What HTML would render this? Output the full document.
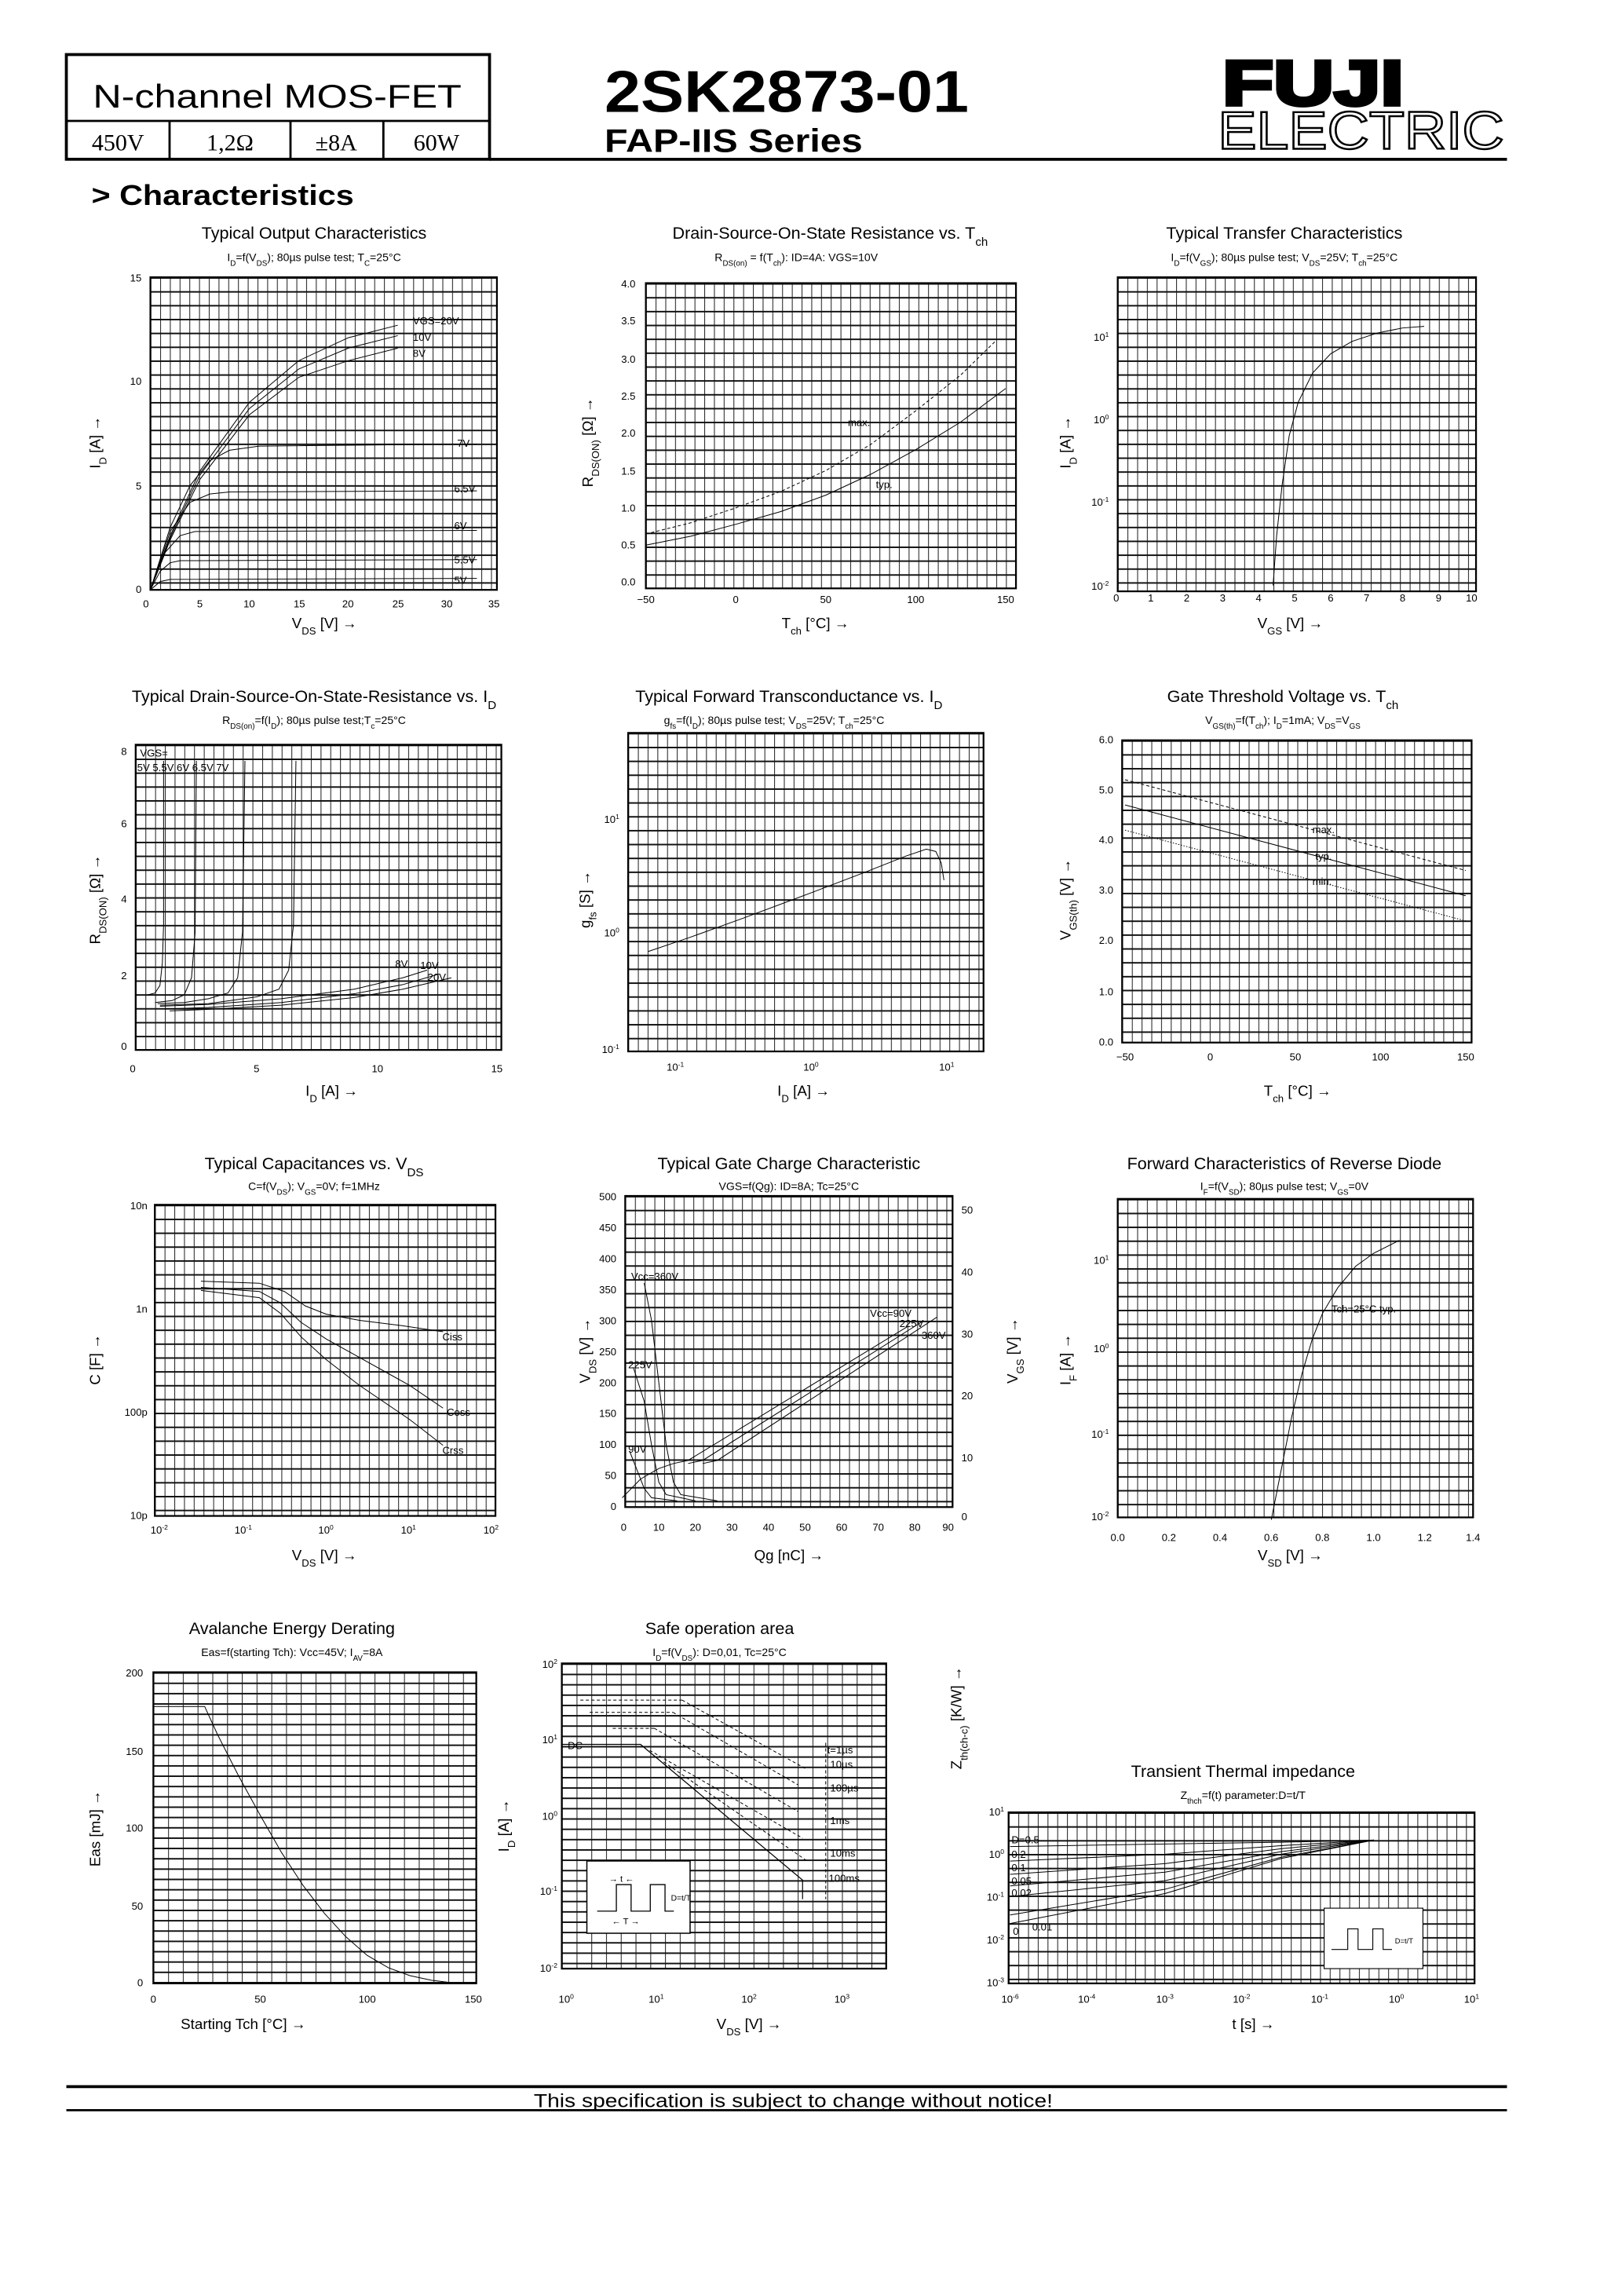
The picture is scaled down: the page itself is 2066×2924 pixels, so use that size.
<!DOCTYPE html>
<html><head><meta charset="utf-8"><style>
html,body{margin:0;padding:0;background:#fff}
svg{display:block}
text{font-family:"Liberation Sans",sans-serif;fill:#000}
.t{font-size:11.5px;text-anchor:middle}
.st{font-size:7.5px;text-anchor:middle}
.tk{font-size:7px}
.r{text-anchor:end}
.m{text-anchor:middle}
.ax{font-size:10px;text-anchor:middle}
.s{baseline-shift:sub;font-size:70%}
.p{baseline-shift:super;font-size:65%}
.c{fill:none;stroke:#000;stroke-width:1;vector-effect:non-scaling-stroke}
.d{stroke-dasharray:4 3}
.o{stroke-dasharray:1.5 2}
.b{fill:none;stroke:#000;stroke-width:1.2}
</style></head><body>
<svg width="2066" height="2924" viewBox="0 0 1100 1557" preserveAspectRatio="none" xmlns="http://www.w3.org/2000/svg">
<defs>
<pattern id="g" width="6.6" height="9.4" patternUnits="userSpaceOnUse">
<line x1="0.3" y1="0" x2="0.3" y2="9.4" stroke="#222" stroke-width="0.55"/>
<line x1="0" y1="0.5" x2="6.6" y2="0.5" stroke="#111" stroke-width="1.1"/>
</pattern>
<pattern id="gl" width="10" height="7" patternUnits="userSpaceOnUse">
<line x1="0.3" y1="0" x2="0.3" y2="7" stroke="#222" stroke-width="0.55"/>
<line x1="0" y1="0.5" x2="10" y2="0.5" stroke="#111" stroke-width="1.1"/>
</pattern>
</defs>
<rect width="1100" height="1557" fill="#fff"/>

<!-- Header -->
<rect x="45" y="37" width="287" height="71" fill="none" stroke="#000" stroke-width="2"/>
<line x1="45" y1="82" x2="332" y2="82" stroke="#000" stroke-width="1.5"/>
<line x1="115" y1="82" x2="115" y2="108" stroke="#000" stroke-width="1.5"/>
<line x1="197" y1="82" x2="197" y2="108" stroke="#000" stroke-width="1.5"/>
<line x1="260" y1="82" x2="260" y2="108" stroke="#000" stroke-width="1.5"/>
<text x="188" y="73" font-size="22" text-anchor="middle" textLength="250" lengthAdjust="spacingAndGlyphs">N-channel MOS-FET</text>
<text x="80" y="102" font-size="16" text-anchor="middle" style="font-family:'Liberation Serif',serif">450V</text>
<text x="156" y="102" font-size="16" text-anchor="middle" style="font-family:'Liberation Serif',serif">1,2Ω</text>
<text x="228" y="102" font-size="16" text-anchor="middle" style="font-family:'Liberation Serif',serif">±8A</text>
<text x="296" y="102" font-size="16" text-anchor="middle" style="font-family:'Liberation Serif',serif">60W</text>
<text x="410" y="76" font-size="40" font-weight="bold" textLength="247" lengthAdjust="spacingAndGlyphs">2SK2873-01</text>
<text x="410" y="103" font-size="22" font-weight="bold" textLength="175" lengthAdjust="spacingAndGlyphs">FAP-IIS Series</text>
<text x="829" y="71" font-size="43" font-weight="bold" stroke="#000" stroke-width="2.5" textLength="123" lengthAdjust="spacingAndGlyphs">FUJI</text>
<text x="826" y="101" font-size="36" style="fill:#fff" stroke="#000" stroke-width="1.3" textLength="194" lengthAdjust="spacingAndGlyphs">ELECTRIC</text>
<line x1="332" y1="108" x2="1022" y2="108" stroke="#000" stroke-width="2"/>
<text x="62" y="139" font-size="19" font-weight="bold" textLength="178" lengthAdjust="spacingAndGlyphs">&gt; Characteristics</text>

<!-- ========== C1 Output ========== -->
<text class="t" x="213" y="162">Typical Output Characteristics</text>
<text class="st" x="213" y="177">I<tspan class="s">D</tspan>=f(V<tspan class="s">DS</tspan>); 80µs pulse test; T<tspan class="s">C</tspan>=25°C</text>
<svg x="102" y="188" width="235" height="212"><rect width="100%" height="100%" fill="url(#g)"/></svg>
<rect class="b" x="102" y="188" width="235" height="212"/>
<g class="tk"><text class="r" x="96" y="191">15</text><text class="r" x="96" y="261">10</text><text class="r" x="96" y="332">5</text><text class="r" x="96" y="402">0</text>
<text class="m" x="99" y="412">0</text><text class="m" x="135.5" y="412">5</text><text class="m" x="169" y="412">10</text><text class="m" x="203" y="412">15</text><text class="m" x="236" y="412">20</text><text class="m" x="270" y="412">25</text><text class="m" x="303" y="412">30</text><text class="m" x="335" y="412">35</text></g>
<text class="ax" x="220" y="426">V<tspan class="s">DS</tspan> [V] →</text>
<text class="ax" transform="translate(68,300) rotate(-90)">I<tspan class="s">D</tspan> [A] →</text>
<g transform="translate(102,400) scale(6.71,-14.13)">
<polyline class="c" points="0,0 2,2.6 5,5.7 10,9 15,11 20,12.1 25,12.7"/>
<polyline class="c" points="0,0 2,2.5 5,5.5 10,8.7 15,10.6 20,11.6 25,12.2"/>
<polyline class="c" points="0,0 2,2.4 5,5.3 10,8.4 15,10.2 20,11 25,11.6"/>
<polyline class="c" points="0,0 2,3 4,5 6,6.2 8,6.7 11,6.9 33,7"/>
<polyline class="c" points="0,0 2,2.8 4,4.2 6,4.6 8,4.7 33,4.75"/>
<polyline class="c" points="0,0 1.5,1.8 3,2.6 4.5,2.8 33,2.85"/>
<polyline class="c" points="0,0 1,0.9 2,1.3 3,1.4 33,1.45"/>
<polyline class="c" points="0,0 1,0.4 2,0.5 33,0.55"/>
</g>
<g class="tk" font-size="6.5"><text x="280" y="220">VGS=20V</text><text x="280" y="231">10V</text><text x="280" y="242">8V</text><text x="310" y="303">7V</text><text x="308" y="334">6.5V</text><text x="308" y="359">6V</text><text x="308" y="382">5.5V</text><text x="308" y="396">5V</text></g>

<!-- ========== C2 RDS vs Tch ========== -->
<text class="t" x="563" y="162">Drain-Source-On-State Resistance vs. T<tspan class="s">ch</tspan></text>
<text class="st" x="540" y="177">R<tspan class="s">DS(on)</tspan> = f(T<tspan class="s">ch</tspan>): ID=4A: VGS=10V</text>
<svg x="438" y="192" width="251" height="207"><rect width="100%" height="100%" fill="url(#g)"/></svg>
<rect class="b" x="438" y="192" width="251" height="207"/>
<g class="tk"><text class="r" x="431" y="195">4.0</text><text class="r" x="431" y="220">3.5</text><text class="r" x="431" y="246">3.0</text><text class="r" x="431" y="271">2.5</text><text class="r" x="431" y="296">2.0</text><text class="r" x="431" y="322">1.5</text><text class="r" x="431" y="347">1.0</text><text class="r" x="431" y="372">0.5</text><text class="r" x="431" y="397">0.0</text>
<text class="m" x="438" y="409">−50</text><text class="m" x="499" y="409">0</text><text class="m" x="560" y="409">50</text><text class="m" x="621" y="409">100</text><text class="m" x="682" y="409">150</text></g>
<text class="ax" x="553" y="426">T<tspan class="s">ch</tspan> [°C] →</text>
<text class="ax" transform="translate(402,300) rotate(-90)">R<tspan class="s">DS(ON)</tspan> [Ω] →</text>
<g transform="translate(499,395) scale(1.22,-50.6)">
<polyline class="c" points="-50,0.5 -25,0.62 0,0.78 25,0.95 50,1.17 75,1.45 100,1.78 125,2.15 150,2.6"/>
<polyline class="c d" points="-50,0.65 -25,0.8 0,1.0 25,1.22 50,1.5 75,1.85 100,2.3 125,2.78 145,3.25"/>
</g>
<text class="tk" x="575" y="289">max.</text><text class="tk" x="594" y="331">typ.</text>

<!-- ========== C3 Transfer ========== -->
<text class="t" x="871" y="162">Typical Transfer Characteristics</text>
<text class="st" x="871" y="177">I<tspan class="s">D</tspan>=f(V<tspan class="s">GS</tspan>); 80µs pulse test; V<tspan class="s">DS</tspan>=25V; T<tspan class="s">ch</tspan>=25°C</text>
<svg x="758" y="188" width="243" height="213"><rect width="100%" height="100%" fill="url(#g)"/></svg>
<rect class="b" x="758" y="188" width="243" height="213"/>
<g class="tk"><text class="r" x="752" y="231">10<tspan class="p">1</tspan></text><text class="r" x="752" y="287">10<tspan class="p">0</tspan></text><text class="r" x="752" y="343">10<tspan class="p">-1</tspan></text><text class="r" x="752" y="400">10<tspan class="p">-2</tspan></text>
<text class="m" x="757" y="408">0</text><text class="m" x="780.4" y="408">1</text><text class="m" x="804.8" y="408">2</text><text class="m" x="829.2" y="408">3</text><text class="m" x="853.6" y="408">4</text><text class="m" x="878" y="408">5</text><text class="m" x="902.4" y="408">6</text><text class="m" x="926.8" y="408">7</text><text class="m" x="951.2" y="408">8</text><text class="m" x="975.6" y="408">9</text><text class="m" x="998" y="408">10</text></g>
<text class="ax" x="875" y="426">V<tspan class="s">GS</tspan> [V] →</text>
<text class="ax" transform="translate(726,300) rotate(-90)">I<tspan class="s">D</tspan> [A] →</text>
<g transform="translate(756,284) scale(24.4,-56.5)">
<polyline class="c" points="4.4,-2 4.5,-1.4 4.65,-0.8 4.85,-0.2 5.1,0.2 5.5,0.55 6,0.78 6.6,0.93 7.3,1.03 8,1.09 8.6,1.11"/>
</g>

<!-- ========== C4 RDS vs ID ========== -->
<text class="t" x="213" y="476">Typical Drain-Source-On-State-Resistance vs. I<tspan class="s">D</tspan></text>
<text class="st" x="213" y="491">R<tspan class="s">DS(on)</tspan>=f(I<tspan class="s">D</tspan>); 80µs pulse test;T<tspan class="s">c</tspan>=25°C</text>
<svg x="92" y="505" width="248" height="207"><rect width="100%" height="100%" fill="url(#g)"/></svg>
<rect class="b" x="92" y="505" width="248" height="207"/>
<g class="tk"><text class="r" x="86" y="512">8</text><text class="r" x="86" y="561">6</text><text class="r" x="86" y="612">4</text><text class="r" x="86" y="664">2</text><text class="r" x="86" y="712">0</text>
<text class="m" x="90" y="727">0</text><text class="m" x="174" y="727">5</text><text class="m" x="256" y="727">10</text><text class="m" x="337" y="727">15</text></g>
<text class="ax" x="225" y="743">I<tspan class="s">D</tspan> [A] →</text>
<text class="ax" transform="translate(68,610) rotate(-90)">R<tspan class="s">DS(ON)</tspan> [Ω] →</text>
<g transform="translate(92,709.5) scale(16.47,-25.8)">
<polyline class="c" points="0.5,1.35 0.8,1.4 1.0,1.6 1.1,2.2 1.15,3.2 1.15,7.5"/>
<polyline class="c" points="0.8,1.15 1.5,1.2 2.0,1.35 2.3,1.8 2.45,3 2.5,7.5"/>
<polyline class="c" points="0.9,1.12 2,1.15 3,1.25 3.8,1.4 4.2,1.8 4.4,3 4.5,7.5"/>
<polyline class="c" points="1,1.08 3,1.12 5,1.3 5.9,1.5 6.3,2 6.5,3.2 6.6,7.5"/>
<polyline class="c" points="1,1.05 3,1.1 6,1.25 9,1.5 11,1.8 12,2.0"/>
<polyline class="c" points="1.2,0.98 3,1.02 6,1.15 9,1.38 11,1.62 12.5,1.9"/>
<polyline class="c" points="1.4,0.93 3,0.97 6,1.08 9,1.28 11,1.5 13,1.8"/>
</g>
<g class="tk" font-size="6.5"><text x="95" y="513">VGS=</text><text x="93" y="523">5V 5.5V  6V  6.5V  7V</text><text x="268" y="656">8V</text><text x="285" y="657">10V</text><text x="290" y="665">20V</text></g>

<!-- ========== C5 gfs ========== -->
<text class="t" x="535" y="476">Typical Forward Transconductance vs. I<tspan class="s">D</tspan></text>
<text class="st" x="525" y="491">g<tspan class="s">fs</tspan>=f(I<tspan class="s">D</tspan>); 80µs pulse test; V<tspan class="s">DS</tspan>=25V; T<tspan class="s">ch</tspan>=25°C</text>
<svg x="426" y="497" width="241" height="216"><rect width="100%" height="100%" fill="url(#g)"/></svg>
<rect class="b" x="426" y="497" width="241" height="216"/>
<g class="tk"><text class="r" x="420" y="558">10<tspan class="p">1</tspan></text><text class="r" x="420" y="635">10<tspan class="p">0</tspan></text><text class="r" x="420" y="714">10<tspan class="p">-1</tspan></text>
<text class="m" x="458" y="726">10<tspan class="p">-1</tspan></text><text class="m" x="550" y="726">10<tspan class="p">0</tspan></text><text class="m" x="642" y="726">10<tspan class="p">1</tspan></text></g>
<text class="ax" x="545" y="743">I<tspan class="s">D</tspan> [A] →</text>
<text class="ax" transform="translate(400,610) rotate(-90)">g<tspan class="s">fs</tspan> [S] →</text>
<g transform="translate(550,632) scale(92,-78)">
<polyline class="c" points="-1.2,-0.17 -0.9,-0.05 -0.5,0.12 0,0.34 0.4,0.52 0.7,0.66 0.85,0.72 0.92,0.7 0.96,0.6 0.98,0.45"/>
</g>

<!-- ========== C6 Vth ========== -->
<text class="t" x="870" y="476">Gate Threshold Voltage vs. T<tspan class="s">ch</tspan></text>
<text class="st" x="870" y="491">V<tspan class="s">GS(th)</tspan>=f(T<tspan class="s">ch</tspan>); I<tspan class="s">D</tspan>=1mA; V<tspan class="s">DS</tspan>=V<tspan class="s">GS</tspan></text>
<svg x="761" y="502" width="237" height="205"><rect width="100%" height="100%" fill="url(#g)"/></svg>
<rect class="b" x="761" y="502" width="237" height="205"/>
<g class="tk"><text class="r" x="755" y="504">6.0</text><text class="r" x="755" y="538">5.0</text><text class="r" x="755" y="572">4.0</text><text class="r" x="755" y="606">3.0</text><text class="r" x="755" y="640">2.0</text><text class="r" x="755" y="675">1.0</text><text class="r" x="755" y="709">0.0</text>
<text class="m" x="763" y="719">−50</text><text class="m" x="820.75" y="719">0</text><text class="m" x="878.5" y="719">50</text><text class="m" x="936.25" y="719">100</text><text class="m" x="994" y="719">150</text></g>
<text class="ax" x="880" y="743">T<tspan class="s">ch</tspan> [°C] →</text>
<text class="ax" transform="translate(726,610) rotate(-90)">V<tspan class="s">GS(th)</tspan> [V] →</text>
<g transform="translate(820.75,706.6) scale(1.155,-34.2)">
<line class="c" x1="-50" y1="4.7" x2="150" y2="2.9"/>
<line class="c d" x1="-50" y1="5.2" x2="150" y2="3.4"/>
<line class="c o" x1="-50" y1="4.2" x2="150" y2="2.4"/>
</g>
<g class="tk"><text x="890" y="565">max.</text><text x="892" y="583">typ.</text><text x="890" y="600">min.</text></g>

<!-- ========== C7 Capacitance ========== -->
<text class="t" x="213" y="793">Typical Capacitances vs. V<tspan class="s">DS</tspan></text>
<text class="st" x="213" y="807">C=f(V<tspan class="s">DS</tspan>); V<tspan class="s">GS</tspan>=0V; f=1MHz</text>
<svg x="105" y="817" width="231" height="211"><rect width="100%" height="100%" fill="url(#g)"/></svg>
<rect class="b" x="105" y="817" width="231" height="211"/>
<g class="tk"><text class="r" x="100" y="820">10n</text><text class="r" x="100" y="890">1n</text><text class="r" x="100" y="960">100p</text><text class="r" x="100" y="1030">10p</text>
<text class="m" x="108" y="1040">10<tspan class="p">-2</tspan></text><text class="m" x="165" y="1040">10<tspan class="p">-1</tspan></text><text class="m" x="221" y="1040">10<tspan class="p">0</tspan></text><text class="m" x="277" y="1040">10<tspan class="p">1</tspan></text><text class="m" x="333" y="1040">10<tspan class="p">2</tspan></text></g>
<text class="ax" x="220" y="1058">V<tspan class="s">DS</tspan> [V] →</text>
<text class="ax" transform="translate(68,922) rotate(-90)">C [F] →</text>
<g transform="translate(221.2,1097) scale(56.6,-70)">
<polyline class="c" points="-1.5,3.26 -0.8,3.24 -0.5,3.16 -0.25,3.02 0,2.94 0.4,2.88 0.9,2.83 1.4,2.77"/>
<polyline class="c" points="-1.5,3.2 -0.8,3.16 -0.55,3.05 -0.3,2.86 0,2.7 0.4,2.52 1.0,2.25 1.4,2.03"/>
<polyline class="c" points="-1.5,3.17 -0.8,3.1 -0.55,2.95 -0.3,2.72 0,2.5 0.4,2.25 1.0,1.92 1.4,1.67"/>
</g>
<g class="tk" font-size="6.5"><text x="300" y="909">Ciss</text><text x="303" y="960">Coss</text><text x="300" y="986">Crss</text></g>

<!-- ========== C8 Gate charge ========== -->
<text class="t" x="535" y="793">Typical Gate Charge Characteristic</text>
<text class="st" x="535" y="807">VGS=f(Qg): ID=8A; Tc=25°C</text>
<svg x="424" y="811" width="222" height="211"><rect width="100%" height="100%" fill="url(#g)"/></svg>
<rect class="b" x="424" y="811" width="222" height="211"/>
<g class="tk" font-size="6.5"><text class="r" x="418" y="814">500</text><text class="r" x="418" y="835">450</text><text class="r" x="418" y="856">400</text><text class="r" x="418" y="877">350</text><text class="r" x="418" y="898">300</text><text class="r" x="418" y="919">250</text><text class="r" x="418" y="940">200</text><text class="r" x="418" y="961">150</text><text class="r" x="418" y="982">100</text><text class="r" x="418" y="1003">50</text><text class="r" x="418" y="1024">0</text>
<text x="652" y="823">50</text><text x="652" y="865">40</text><text x="652" y="907">30</text><text x="652" y="949">20</text><text x="652" y="991">10</text><text x="652" y="1031">0</text>
<text class="m" x="423" y="1038">0</text><text class="m" x="446.8" y="1038">10</text><text class="m" x="471.6" y="1038">20</text><text class="m" x="496.4" y="1038">30</text><text class="m" x="521.2" y="1038">40</text><text class="m" x="546" y="1038">50</text><text class="m" x="570.8" y="1038">60</text><text class="m" x="595.6" y="1038">70</text><text class="m" x="620.4" y="1038">80</text><text class="m" x="643" y="1038">90</text></g>
<text class="ax" x="535" y="1058">Qg [nC] →</text>
<text class="ax" transform="translate(400,916) rotate(-90)">V<tspan class="s">DS</tspan> [V] →</text>
<text class="ax" transform="translate(690,916) rotate(-90)">V<tspan class="s">GS</tspan> [V] →</text>
<g transform="translate(422,1022) scale(2.48,-0.422)">
<polyline class="c" points="6,360 8,300 10,200 12,100 14,40 16,20 26,10"/>
<polyline class="c" points="3,225 6,170 8,100 10,40 12,20 20,10"/>
<polyline class="c" points="2,90 4,60 6,30 8,15 15,10"/>
<polyline class="c" points="0,15 5,45 10,62 14,70"/>
<polyline class="c" points="14,70 18,75 78,290"/>
<polyline class="c" points="18,70 22,75 82,298"/>
<polyline class="c" points="22,70 26,75 86,305"/>
</g>
<g class="tk" font-size="6"><text x="428" y="868">Vcc=360V</text><text x="426" y="928">225V</text><text x="426" y="985">90V</text><text x="590" y="893">Vcc=90V</text><text x="610" y="900">225V</text><text x="625" y="908">360V</text></g>

<!-- ========== C9 Diode ========== -->
<text class="t" x="871" y="793">Forward Characteristics of Reverse Diode</text>
<text class="st" x="871" y="807">I<tspan class="s">F</tspan>=f(V<tspan class="s">SD</tspan>); 80µs pulse test; V<tspan class="s">GS</tspan>=0V</text>
<svg x="758" y="813" width="241" height="216"><rect width="100%" height="100%" fill="url(#g)"/></svg>
<rect class="b" x="758" y="813" width="241" height="216"/>
<g class="tk"><text class="r" x="752" y="857">10<tspan class="p">1</tspan></text><text class="r" x="752" y="917">10<tspan class="p">0</tspan></text><text class="r" x="752" y="975">10<tspan class="p">-1</tspan></text><text class="r" x="752" y="1031">10<tspan class="p">-2</tspan></text>
<text class="m" x="758" y="1045">0.0</text><text class="m" x="792.7" y="1045">0.2</text><text class="m" x="827.4" y="1045">0.4</text><text class="m" x="862.1" y="1045">0.6</text><text class="m" x="896.8" y="1045">0.8</text><text class="m" x="931.5" y="1045">1.0</text><text class="m" x="966.2" y="1045">1.2</text><text class="m" x="999" y="1045">1.4</text></g>
<text class="ax" x="875" y="1058">V<tspan class="s">SD</tspan> [V] →</text>
<text class="ax" transform="translate(726,922) rotate(-90)">I<tspan class="s">F</tspan> [A] →</text>
<g transform="translate(758,914) scale(173.6,-58.3)">
<polyline class="c" points="0.6,-2 0.64,-1.4 0.68,-0.8 0.72,-0.3 0.76,0.1 0.8,0.4 0.86,0.7 0.93,0.95 1.0,1.1 1.1,1.25"/>
</g>
<text class="tk" x="903" y="890" font-size="6.5">Tch=25°C  typ.</text>

<!-- ========== C10 Avalanche ========== -->
<text class="t" x="198" y="1108">Avalanche Energy Derating</text>
<text class="st" x="198" y="1123">Eas=f(starting Tch): Vcc=45V; I<tspan class="s">AV</tspan>=8A</text>
<svg x="104" y="1134" width="219" height="211"><rect width="100%" height="100%" fill="url(#gl)"/></svg>
<rect class="b" x="104" y="1134" width="219" height="211"/>
<g class="tk"><text class="r" x="97" y="1137">200</text><text class="r" x="97" y="1190">150</text><text class="r" x="97" y="1242">100</text><text class="r" x="97" y="1295">50</text><text class="r" x="97" y="1347">0</text>
<text class="m" x="104" y="1358">0</text><text class="m" x="176.5" y="1358">50</text><text class="m" x="249" y="1358">100</text><text class="m" x="321" y="1358">150</text></g>
<text class="ax" x="165" y="1376">Starting Tch [°C] →</text>
<text class="ax" transform="translate(68,1240) rotate(-90)">Eas [mJ] →</text>
<g transform="translate(104,1345) scale(1.45,-1.055)">
<polyline class="c" points="0,178 24,178 30,160 40,133 50,108 60,84 70,63 80,45 90,30 100,18 110,10 120,5 130,2 140,0.4 148,0"/>
</g>

<!-- ========== C11 SOA ========== -->
<text class="t" x="488" y="1108">Safe operation area</text>
<text class="st" x="488" y="1123">I<tspan class="s">D</tspan>=f(V<tspan class="s">DS</tspan>): D=0,01, Tc=25°C</text>
<svg x="381" y="1128" width="220" height="207"><rect width="100%" height="100%" fill="url(#gl)"/></svg>
<rect class="b" x="381" y="1128" width="220" height="207"/>
<g class="tk" font-size="6"><text class="r" x="378" y="1131">10<tspan class="p">2</tspan></text><text class="r" x="378" y="1182">10<tspan class="p">1</tspan></text><text class="r" x="378" y="1234">10<tspan class="p">0</tspan></text><text class="r" x="378" y="1285">10<tspan class="p">-1</tspan></text><text class="r" x="378" y="1337">10<tspan class="p">-2</tspan></text>
<text class="m" x="384" y="1358">10<tspan class="p">0</tspan></text><text class="m" x="445" y="1358">10<tspan class="p">1</tspan></text><text class="m" x="508" y="1358">10<tspan class="p">2</tspan></text><text class="m" x="571" y="1358">10<tspan class="p">3</tspan></text></g>
<text class="ax" x="508" y="1376">V<tspan class="s">DS</tspan> [V] →</text>
<text class="ax" transform="translate(345,1238) rotate(-90)">I<tspan class="s">D</tspan> [A] →</text>
<g transform="translate(381,1231) scale(62.8,-51.7)">
<polyline class="c" points="0,0.93 0.85,0.93 2.6,-0.85 2.6,-1.1" style="stroke-width:1.2"/>
<line class="c d" x1="0.2" y1="1.51" x2="1.3" y2="1.51"/>
<line class="c d" x1="0.3" y1="1.35" x2="1.2" y2="1.35"/>
<line class="c d" x1="0.55" y1="1.14" x2="1.0" y2="1.14"/>
<line class="c d" x1="1.3" y1="1.51" x2="2.65" y2="0.6"/>
<line class="c d" x1="1.2" y1="1.35" x2="2.55" y2="0.4"/>
<line class="c d" x1="1.0" y1="1.14" x2="2.55" y2="0.05"/>
<line class="c d" x1="0.95" y1="0.85" x2="2.6" y2="-0.3"/>
<line class="c d" x1="1.1" y1="0.7" x2="2.65" y2="-0.6"/>
<line class="c d" x1="2.85" y1="0.95" x2="2.85" y2="-1.1"/>
</g>
<g class="tk" font-size="6.5"><text x="561" y="1189">t=1µs</text><text x="563" y="1199">10µs</text><text x="563" y="1215">100µs</text><text x="563" y="1237">1ms</text><text x="563" y="1259">10ms</text><text x="562" y="1276">100ms</text><text x="385" y="1186">DC</text></g>
<rect x="398" y="1262" width="70" height="49" fill="#fff" stroke="#000" stroke-width="0.8"/>
<polyline points="405,1296 418,1296 418,1278 428,1278 428,1296 441,1296 441,1278 451,1278 451,1296 457,1296" fill="none" stroke="#000" stroke-width="0.7"/>
<text x="413" y="1276" font-size="6">→ t ←</text><text x="415" y="1305" font-size="6">← T →</text><text x="455" y="1289" font-size="5.5">D=t/T</text>

<!-- ========== C12 Thermal ========== -->
<text class="t" x="843" y="1205">Transient Thermal impedance</text>
<text class="st" x="843" y="1220">Z<tspan class="s">thch</tspan>=f(t) parameter:D=t/T</text>
<svg x="684" y="1229" width="316" height="116"><rect width="100%" height="100%" fill="url(#g)"/></svg>
<rect class="b" x="684" y="1229" width="316" height="116"/>
<g class="tk" font-size="5.5"><text class="r" x="681" y="1231">10<tspan class="p">1</tspan></text><text class="r" x="681" y="1260">10<tspan class="p">0</tspan></text><text class="r" x="681" y="1289">10<tspan class="p">-1</tspan></text><text class="r" x="681" y="1318">10<tspan class="p">-2</tspan></text><text class="r" x="681" y="1347">10<tspan class="p">-3</tspan></text>
<text class="m" x="685" y="1358">10<tspan class="p">-6</tspan></text><text class="m" x="737" y="1358">10<tspan class="p">-4</tspan></text><text class="m" x="790" y="1358">10<tspan class="p">-3</tspan></text><text class="m" x="842" y="1358">10<tspan class="p">-2</tspan></text><text class="m" x="895" y="1358">10<tspan class="p">-1</tspan></text><text class="m" x="947" y="1358">10<tspan class="p">0</tspan></text><text class="m" x="998" y="1358">10<tspan class="p">1</tspan></text></g>
<text class="ax" x="850" y="1376">t [s] →</text>
<text class="ax" transform="translate(652,1165) rotate(-90)">Z<tspan class="s">th(ch-c)</tspan> [K/W] →</text>
<g transform="translate(947.5,1258) scale(52.5,-29)">
<polyline class="c" points="-5,0.2 -3,0.26 -1.5,0.3 -0.3,0.35"/>
<polyline class="c" points="-5,-0.14 -3,0.02 -1.5,0.22 -0.3,0.35"/>
<polyline class="c" points="-5,-0.45 -3,-0.2 -1.5,0.15 -0.3,0.35"/>
<polyline class="c" points="-5,-0.72 -3,-0.4 -1.5,0.08 -0.3,0.35"/>
<polyline class="c" points="-5,-0.97 -3,-0.6 -1.5,0.02 -0.3,0.35"/>
<polyline class="c" points="-5,-1.4 -3,-0.8 -1.5,-0.05 -0.3,0.35"/>
<polyline class="c" points="-5,-1.6 -3,-0.9 -1.5,-0.08 -0.3,0.35"/>
</g>
<g class="tk" font-size="5.5"><text x="686" y="1250">D=0.5</text><text x="686" y="1260">0.2</text><text x="686" y="1269">0.1</text><text x="686" y="1278">0.05</text><text x="686" y="1286">0.02</text><text x="700" y="1309">0.01</text><text x="687" y="1312">0</text></g>
<rect x="898" y="1294" width="67" height="41" fill="#fff" stroke="#000" stroke-width="0.6"/>
<polyline points="903,1322 914,1322 914,1308 921,1308 921,1322 931,1322 931,1308 938,1308 938,1322 944,1322" fill="none" stroke="#000" stroke-width="0.6"/>
<text x="946" y="1318" font-size="5">D=t/T</text>

<!-- Footer -->
<line x1="45" y1="1415" x2="1022" y2="1415" stroke="#000" stroke-width="2"/>
<line x1="45" y1="1431" x2="1022" y2="1431" stroke="#000" stroke-width="1.5"/>
<text x="538" y="1429" font-size="13" text-anchor="middle" textLength="352" lengthAdjust="spacingAndGlyphs">This specification is subject to change without notice!</text>
</svg>
</body></html>
